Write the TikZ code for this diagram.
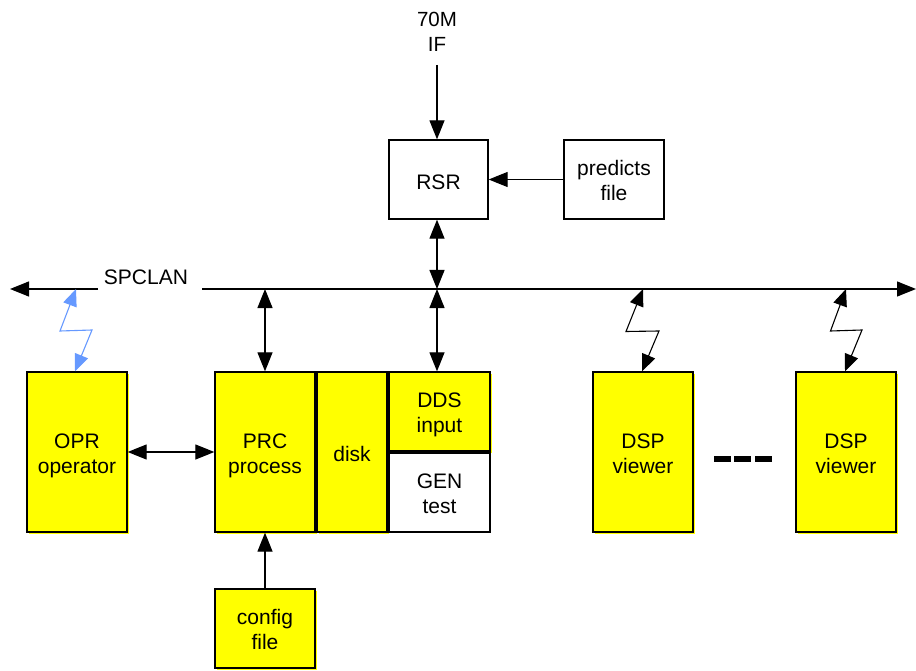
\documentclass[tikz,border=0pt]{standalone}
\usepackage{fontspec}
\setmainfont{Liberation Sans}
\usetikzlibrary{arrows.meta,calc}
\definecolor{boxyellow}{RGB}{255,255,0}
\definecolor{linkblue}{RGB}{102,153,255}
% captions: one line sits just below the centre, two lines straddle it
\newcommand{\oneline}[1]{\raisebox{0pt}[19.5pt][0pt]{#1}}
\newcommand{\twoline}[1]{\raisebox{0pt}[0pt][8pt]{\begin{tabular}[t]{@{}c@{}}#1\end{tabular}}}
\tikzset{
  x=1pt, y=-1pt,
  every node/.style={font=\fontsize{21}{25}\selectfont},
  box/.style={draw=black, line width=1.3pt, fill=white, inner sep=0pt, rectangle},
  ybox/.style={box, fill=boxyellow,
    preaction={fill=boxyellow, transform canvas={xshift=1.5pt, yshift=-1.5pt}}},
  small/.style={minimum width=#1, minimum height=79pt},
  tall/.style={minimum width=#1, minimum height=160pt},
  link/.style={line width=1.2pt, -{Triangle[length=19pt,width=15pt]}},
  dlink/.style={line width=1.2pt, {Triangle[length=19pt,width=15pt]}-{Triangle[length=19pt,width=15pt]}},
  radio/.style={line width=1.1pt, {Triangle[length=17pt,width=14pt]}-{Triangle[length=17pt,width=14pt]}},
}
\begin{document}
\begin{tikzpicture}
\useasboundingbox (0,0) rectangle (916,671);

% receiver chain
\node[align=center, font=\fontsize{20.5}{24.5}\selectfont] (ifin) at (437,32) {70M\\IF};
\coordinate (ifend) at (437,65);
\node[box, small=99pt] (RSR) at (438.5,179.5) {\oneline{RSR}};
\node[box, small=100pt] (pred) at (614,179.5) {\twoline{predicts\\file}};

% processing units
\node[ybox, tall=100pt] (OPR) at (77,452) {\twoline{OPR\\operator}};
\node[ybox, tall=100pt] (PRC) at (265,452) {\twoline{PRC\\process}};
\node[ybox, tall=70pt] (disk) at (352,452) {\oneline{disk}};
\node[ybox, small=101pt] (DDS) at (439.5,411.5) {\twoline{DDS\\input}};
\node[box, small=101pt] (GEN) at (439.5,492.5) {\twoline{GEN\\test}};
\node[ybox, small=100pt] (cfg) at (265,628.5) {\twoline{config\\file}};
\node[ybox, tall=100pt] (DSPa) at (643,452) {\twoline{DSP\\viewer}};
\node[ybox, tall=100pt] (DSPb) at (846,452) {\twoline{DSP\\viewer}};

% SPCLAN bus
\coordinate (lanL) at (10,289);
\coordinate (lanR) at (916,289);
\coordinate (gapL) at (98,289);
\coordinate (gapR) at (202,289);
\node (lan) at (146,277) {SPCLAN};
\draw[link] (gapL) -- (lanL);
\draw[link] (gapR) -- (lanR);

% taps on the bus
\coordinate (tapPRC) at (265,289);
\coordinate (tapRSR) at (437,289);
\coordinate (tapOPR) at (76,289);
\coordinate (tapA) at (643,289);
\coordinate (tapB) at (846,289);

\draw[link] (ifend) -- (ifend |- RSR.north);
\draw[link] (pred.west) -- (pred.west -| RSR.east);
\draw[dlink] (tapRSR |- RSR.south) -- (tapRSR);
\draw[dlink] (tapRSR) -- (tapRSR |- DDS.north);
\draw[dlink] (tapPRC) -- (PRC.north);
\draw[dlink] (OPR.east) -- (PRC.west);
\draw[link] (cfg.north) -- (PRC.south);

% wireless links
\draw[radio, draw=linkblue] (tapOPR) -- (60,331) -- (92,330) -- ($(OPR.north)+(-2,0)$);
\draw[radio] (tapA) -- (626,331.5) -- (659,331) -- ($(DSPa.north)+(-1,0)$);
\draw[radio] (tapB) -- (830.5,331) -- (862,330) -- ($(DSPb.north)+(-1,0)$);

% ellipsis between viewers
\foreach \xa/\xb in {714/731, 734/751, 755/772}
  \fill (\xa,455.5) rectangle (\xb,461.5);
\end{tikzpicture}
\end{document}
